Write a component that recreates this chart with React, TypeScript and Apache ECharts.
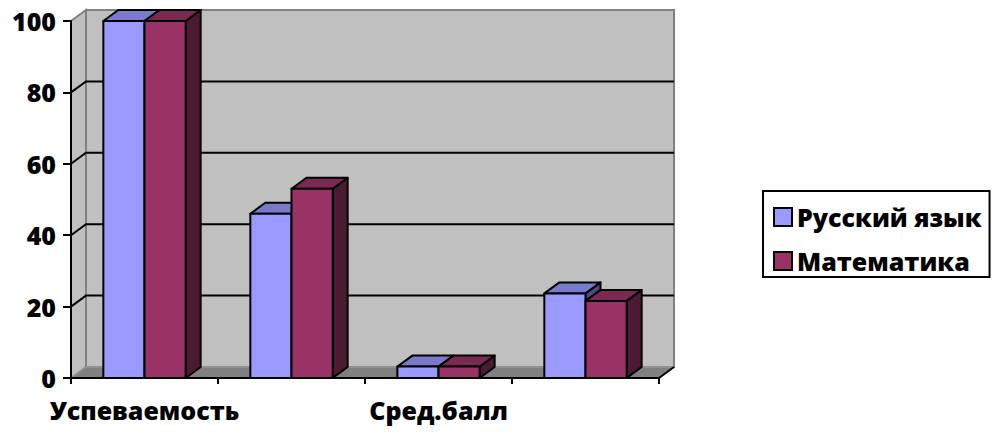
import React, { useEffect, useRef } from "react";
import * as echarts from "echarts";

const categories = ["Успеваемость", "Качество", "Сред.балл", "СОУ"];
const seriesNames = ["Русский язык", "Математика"];
const russianValues = [100, 46, 3.2, 23.7];
const mathValues = [100, 53, 3.2, 21.6];
const yTicks = [0, 20, 40, 60, 80, 100];

const FONT = "'Open Sans', 'Noto Sans', sans-serif";
const DX = 15;
const DY = 11;
const BAR_RATIO = 0.28;

const faces = [
  { front: "#9999FF", top: "#7A7ACC", side: "#4D4D80" },
  { front: "#993366", top: "#7A2952", side: "#4D1A33" },
];

function barRenderer(seriesIdx: number) {
  return (params: any, api: any) => {
    const x = api.value(0);
    const v = api.value(1);
    const base = api.coord([x, 0]);
    const top = api.coord([x, v]);
    const bw = api.size([1, 0])[0];
    const w = bw * BAR_RATIO;
    const x0 = base[0] + (seriesIdx === 0 ? -w : 0);
    const x1 = x0 + w;
    const yb = base[1];
    const yt = top[1];
    const c = faces[seriesIdx];
    const stroke = { stroke: "#000", lineWidth: 2, lineJoin: "round" };
    return {
      type: "group",
      children: [
        {
          type: "polygon",
          shape: { points: [[x1, yt], [x1 + DX, yt - DY], [x1 + DX, yb - DY], [x1, yb]] },
          style: { fill: c.side, ...stroke },
        },
        {
          type: "polygon",
          shape: { points: [[x0, yt], [x0 + DX, yt - DY], [x1 + DX, yt - DY], [x1, yt]] },
          style: { fill: c.top, ...stroke },
        },
        {
          type: "polygon",
          shape: { points: [[x0, yt], [x1, yt], [x1, yb], [x0, yb]] },
          style: { fill: c.front, ...stroke },
        },
      ],
    };
  };
}

function wallRenderer(params: any, api: any) {
  const cs = params.coordSys;
  const L = cs.x;
  const R = cs.x + cs.width;
  const T = cs.y;
  const B = cs.y + cs.height;
  const children: any[] = [
    {
      type: "polygon",
      shape: { points: [[L + DX, T - DY], [R + DX, T - DY], [R + DX, B - DY], [L + DX, B - DY]] },
      style: { fill: "#C0C0C0", stroke: "#808080", lineWidth: 2 },
    },
    {
      type: "polygon",
      shape: { points: [[L, B], [L, T], [L + DX, T - DY], [L + DX, B - DY]] },
      style: { fill: "#C0C0C0", stroke: "#808080", lineWidth: 2 },
    },
    {
      type: "polygon",
      shape: { points: [[L, B], [R, B], [R + DX, B - DY], [L + DX, B - DY]] },
      style: { fill: "#808080", stroke: "#A0A0A0", lineWidth: 1 },
    },
    {
      type: "polyline",
      shape: { points: [[R, B], [R + DX, B - DY]] },
      style: { stroke: "#000", lineWidth: 2, fill: null },
    },
  ];
  yTicks.slice(1, -1).forEach((t) => {
    const y = api.coord([0, t])[1];
    children.push({
      type: "polyline",
      shape: { points: [[L, y], [L + DX, y - DY], [R + DX, y - DY]] },
      style: { stroke: "#000", lineWidth: 2, fill: null },
    });
  });
  return { type: "group", children };
}

export default function App() {
  const ref = useRef<HTMLDivElement>(null);
  useEffect(() => {
    if (!ref.current) return;
    const chart = echarts.init(ref.current, null, { renderer: "svg" });
    chart.setOption({
      animation: false,
      backgroundColor: "#fff",
      grid: { left: 71, top: 21, width: 588, height: 357 },
      legend: {
        orient: "vertical",
        left: 763,
        top: 191,
        padding: [11, 8, 1, 10],
        itemGap: 14,
        itemWidth: 18,
        itemHeight: 18,
        icon: "rect",
        borderColor: "#000",
        borderWidth: 2,
        backgroundColor: "#fff",
        itemStyle: { borderColor: "#000", borderWidth: 2 },
        textStyle: { fontFamily: FONT, fontWeight: 800, fontSize: 25, color: "#000", lineHeight: 30 },
        data: [
          { name: seriesNames[0], itemStyle: { color: faces[0].front } },
          { name: seriesNames[1], itemStyle: { color: faces[1].front } },
        ],
      },
      xAxis: {
        type: "category",
        data: categories,
        z: 10,
        axisLine: { show: true, lineStyle: { color: "#000", width: 2 } },
        axisTick: { show: true, interval: 0, length: 6, lineStyle: { color: "#000", width: 2 } },
        axisLabel: {
          interval: 1,
          margin: 19,
          fontFamily: FONT,
          fontWeight: 800,
          fontSize: 25,
          color: "#000",
        },
        splitLine: { show: false },
      },
      yAxis: {
        type: "value",
        min: 0,
        max: 100,
        interval: 20,
        z: 10,
        axisLine: { show: true, lineStyle: { color: "#000", width: 2 } },
        axisTick: { show: true, length: 8, lineStyle: { color: "#000", width: 2 } },
        axisLabel: {
          margin: 15,
          fontFamily: FONT,
          fontWeight: 800,
          fontSize: 25,
          color: "#000",
        },
        splitLine: { show: false },
      },
      series: [
        {
          type: "custom",
          name: "walls",
          z: 1,
          silent: true,
          clip: false,
          renderItem: wallRenderer,
          data: [[0, 0]],
        },
        {
          type: "custom",
          name: seriesNames[0],
          z: 2,
          clip: false,
          itemStyle: { color: faces[0].front },
          renderItem: barRenderer(0),
          data: russianValues.map((v, i) => [i, v]),
        },
        {
          type: "custom",
          name: seriesNames[1],
          z: 3,
          clip: false,
          itemStyle: { color: faces[1].front },
          renderItem: barRenderer(1),
          data: mathValues.map((v, i) => [i, v]),
        },
      ],
    });
    return () => chart.dispose();
  }, []);
  return (
    <div
      ref={ref}
      style={{ position: "absolute", left: 0, top: 0, width: 992, height: 432 }}
    />
  );
}
